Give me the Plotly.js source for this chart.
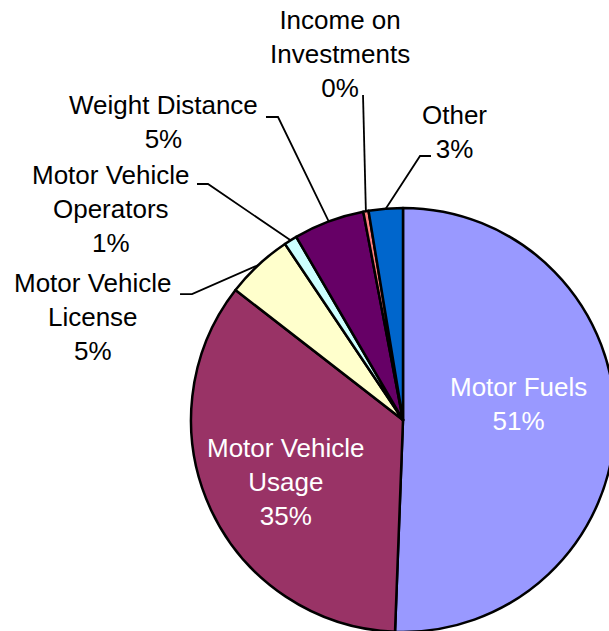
<!DOCTYPE html>
<html>
<head>
<meta charset="utf-8">
<script src="https://cdn.plot.ly/plotly-3.0.1.min.js"></script>
<style>
html,body{margin:0;padding:0;overflow:hidden;background:#fff;}
#chart{width:640px;height:660px;}
</style>
</head>
<body>
<div id="chart"></div>
<script>
// ---- data ----
const categories = ["Motor Fuels", "Motor Vehicle Usage", "Motor Vehicle License", "Motor Vehicle Operators", "Weight Distance", "Income on Investments", "Other"];
const labelLines = ["Motor Fuels", "Motor Vehicle<br>Usage", "Motor Vehicle<br>License", "Motor Vehicle<br>Operators", "Weight Distance", "Income on<br>Investments", "Other"];
const shares = [50.6, 34.9, 5.1, 1.0, 5.4, 0.4, 2.6];
const colors = ["#9999FF", "#993366", "#FFFFCC", "#CCFFFF", "#660066", "#FF8080", "#0066CC"];

// ---- layout geometry (pixels) ----
const W = 640, H = 660;
const CX = 403, CY = 420, R = 212;
const px = x => x / W;
const py = y => 1 - y / H;

// label placement (pixels): center of text block, and elbow of leader line
const labelPos = [
  {x: 518, y: 404, inside: true},
  {x: 286, y: 482, inside: true},
  {x: 93,  y: 317, elbow: [[180, 294], [192, 294]]},
  {x: 111, y: 209, elbow: [[197, 184], [208, 184]]},
  {x: 163, y: 122, elbow: [[266, 117], [278, 117]]},
  {x: 340, y: 54,  elbow: [[363, 95]]},
  {x: 454, y: 132, elbow: [[431, 156], [420, 156]]}
];

const total = shares.reduce((a, b) => a + b, 0);
const annotations = [];
const shapes = [];
let cum = 0;
shares.forEach((v, i) => {
  const mid = (cum + v / 2) / total * 2 * Math.PI;
  cum += v;
  const pct = Math.round(v / total * 100) + "%";
  const p = labelPos[i];
  annotations.push({
    xref: "paper", yref: "paper", x: px(p.x), y: py(p.y),
    xanchor: "center", yanchor: "middle", showarrow: false,
    text: labelLines[i] + "<br>" + pct,
    font: {family: "Liberation Sans, Arial, sans-serif", size: 26, color: p.inside ? "#FFFFFF" : "#000000"}
  });
  if (!p.inside) {
    const ex = CX + R * Math.sin(mid), ey = CY - R * Math.cos(mid);
    const pts = p.elbow.concat([[ex, ey]]);
    const path = pts.map((q, k) => (k ? "L" : "M") + px(q[0]).toFixed(4) + "," + py(q[1]).toFixed(4)).join(" ");
    shapes.push({type: "path", xref: "paper", yref: "paper", path: path, line: {color: "#000", width: 1.8}});
  }
});

const trace = {
  type: "pie",
  labels: categories,
  values: shares,
  sort: false,
  direction: "clockwise",
  rotation: 0,
  textinfo: "none",
  hoverinfo: "label+percent",
  marker: {colors: colors, line: {color: "#000000", width: 2.5}},
  domain: {x: [px(CX - R), px(CX + R)], y: [py(CY + R), py(CY - R)]}
};

const layout = {
  width: W, height: H,
  margin: {l: 0, r: 0, t: 0, b: 0},
  showlegend: false,
  paper_bgcolor: "#FFFFFF",
  annotations: annotations,
  shapes: shapes,
  font: {family: "Liberation Sans, Arial, sans-serif"}
};

Plotly.newPlot("chart", [trace], layout, {displayModeBar: false, staticPlot: true});
</script>
</body>
</html>
